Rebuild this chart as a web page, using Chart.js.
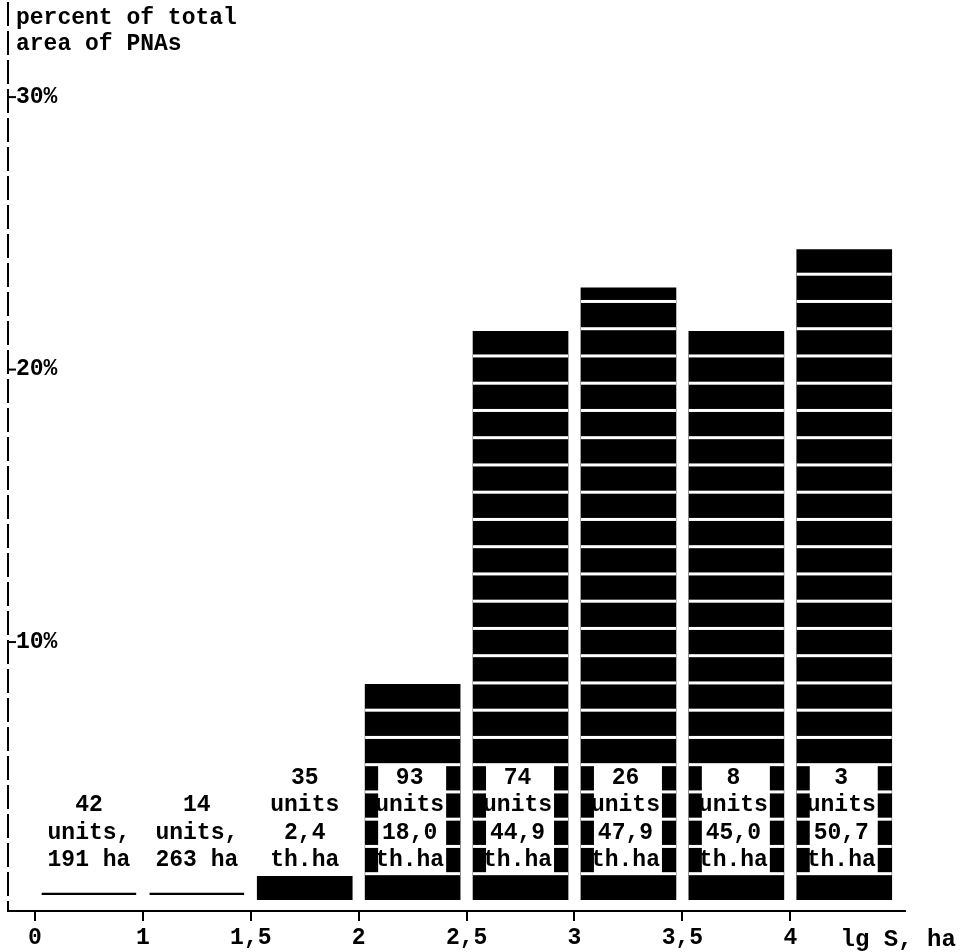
<!DOCTYPE html>
<html>
<head>
<meta charset="utf-8">
<script src="https://cdn.jsdelivr.net/npm/chart.js@4.4.0/dist/chart.umd.min.js"></script>
<style>
  html, body { margin: 0; padding: 0; background: #fff; }
  #wrap { width: 966px; height: 952px; }
</style>
</head>
<body>
<div id="wrap"><canvas id="pna-chart"></canvas></div>
<script>
// ------------------------
// DATA
// ------------------------

// bin edges of lg S (ha) shown under the x axis
const xTickLabels = ["0", "1", "1,5", "2", "2,5", "3", "3,5", "4"];
const sizeClasses = ["0–1", "1–1,5", "1,5–2", "2–2,5", "2,5–3", "3–3,5", "3,5–4", "4–4,5"];

// percent of total area of PNAs per size class
const areaShare = [0.8, 0.8, 1.4, 8.45, 21.4, 23.0, 21.4, 24.4];

const yTickValues = [10, 20, 30];

// text written in each bar
const unitCounts = ["42", "14", "35", "93", "74", "26", "8", "3"];
const areaTexts = [
    ["units,", "191 ha"],
    ["units,", "263 ha"],
    ["units", "2,4", "th.ha"],
    ["units", "18,0", "th.ha"],
    ["units", "44,9", "th.ha"],
    ["units", "47,9", "th.ha"],
    ["units", "45,0", "th.ha"],
    ["units", "50,7", "th.ha"]
];

// ------------------------
// STYLE
// ------------------------

const FONT = "'Liberation Mono', 'DejaVu Sans Mono', monospace";
const BAR_BASE = 0.55;   // bars start a bit above the axis

Chart.defaults.font.family = FONT;
Chart.defaults.font.weight = "bold";
Chart.defaults.font.size = 23;
Chart.defaults.color = "#000";

// ------------------------
// PLUGINS
// ------------------------

// white gaps every 1%, cleared text box, bar texts, y axis
const barDecor = {
    id: "barDecor",
    afterDatasetsDraw(chart) {
        const ctx = chart.ctx;
        const y = chart.scales.y;
        const meta = chart.getDatasetMeta(0);
        ctx.save();
        meta.data.forEach((bar, i) => {
            const left = bar.x - bar.width / 2;
            const top = areaShare[i];
            if (i >= 2) {
                ctx.fillStyle = "#fff";
                for (let k = 1.5; k < top; k += 1) {
                    ctx.fillRect(left, y.getPixelForValue(k) - 1.5, bar.width, 3);
                }
                if (top > 5.5) {
                    const yTop = y.getPixelForValue(5.5);
                    const yBot = y.getPixelForValue(1.5);
                    ctx.fillRect(left + 13, yTop, bar.width - 27, yBot - yTop);
                }
            }
            const lines = [unitCounts[i], ...areaTexts[i]];
            ctx.fillStyle = "#000";
            ctx.font = "bold 23px " + FONT;
            ctx.textAlign = "center";
            ctx.textBaseline = "middle";
            const cx = i >= 3 ? bar.x - 3 : bar.x;
            lines.forEach((t, j) => {
                const row = 2 + (lines.length - 1 - j);
                ctx.fillText(t, cx, y.getPixelForValue(row));
            });
        });
        ctx.restore();
    },
    afterDraw(chart) {
        const ctx = chart.ctx;
        const {left, bottom} = chart.chartArea;
        const y = chart.scales.y;
        const x = chart.scales.x;
        ctx.save();
        // dashed y axis
        ctx.strokeStyle = "#000";
        ctx.lineWidth = 2;
        ctx.setLineDash([24, 5]);
        ctx.beginPath();
        ctx.moveTo(left, 2);
        ctx.lineTo(left, bottom);
        ctx.stroke();
        ctx.setLineDash([]);
        // short ticks to the right of the y axis, with labels
        ctx.fillStyle = "#000";
        ctx.font = "bold 23px " + FONT;
        ctx.textAlign = "left";
        ctx.textBaseline = "middle";
        yTickValues.forEach(v => {
            const py = y.getPixelForValue(v);
            ctx.beginPath();
            ctx.moveTo(left, py);
            ctx.lineTo(left + 8, py);
            ctx.stroke();
            ctx.fillText(v + "%", left + 8, py);
        });
        // axis titles
        ctx.fillText("percent of total", 16, 18);
        ctx.fillText("area of PNAs", 16, 44);
        ctx.font = "bold 24px " + FONT;
        ctx.textAlign = "center";
        ctx.fillText("lg S, ha", x.getPixelForValue(8), x.top + 29);
        ctx.restore();
    }
};

// ------------------------
// CHART
// ------------------------

new Chart(document.getElementById("pna-chart"), {
    type: "bar",
    data: {
        datasets: [{
            label: "percent of total area of PNAs",
            data: sizeClasses.map((c, i) => ({ x: i + 0.5, y: [BAR_BASE, areaShare[i]] })),
            barThickness: 95,
            backgroundColor: c => c.dataIndex < 2 ? "rgba(0,0,0,0)" : "#000",
            borderColor: "#000",
            borderWidth: c => c.dataIndex < 2 ? { top: 2, left: 0, right: 0, bottom: 0 } : 0,
            borderSkipped: "start"
        }]
    },
    options: {
        responsive: true,
        maintainAspectRatio: false,
        animation: false,
        layout: { padding: { left: 8, right: 61, top: 5, bottom: -4 } },
        plugins: {
            legend: { display: false },
            tooltip: { enabled: false }
        },
        scales: {
            x: {
                type: "linear",
                offset: false,
                min: -0.25,
                max: 8.063,
                afterBuildTicks: s => { s.ticks = xTickLabels.map((_, i) => ({ value: i })); },
                ticks: {
                    callback: (v, i) => xTickLabels[i],
                    padding: 6,
                    maxRotation: 0,
                    autoSkip: false,
                    font: { size: 23, weight: "bold", lineHeight: 1 }
                },
                grid: {
                    offset: false,
                    drawOnChartArea: false,
                    drawTicks: true,
                    tickLength: 10,
                    color: "#000",
                    lineWidth: 2
                },
                border: { display: true, color: "#000", width: 2 }
            },
            y: {
                min: 0.13,
                max: 33.38,
                afterBuildTicks: s => { s.ticks = yTickValues.map(v => ({ value: v })); },
                ticks: { display: false },
                grid: { drawOnChartArea: false, drawTicks: false },
                border: { display: false }
            }
        }
    },
    plugins: [barDecor]
});
</script>
</body>
</html>
